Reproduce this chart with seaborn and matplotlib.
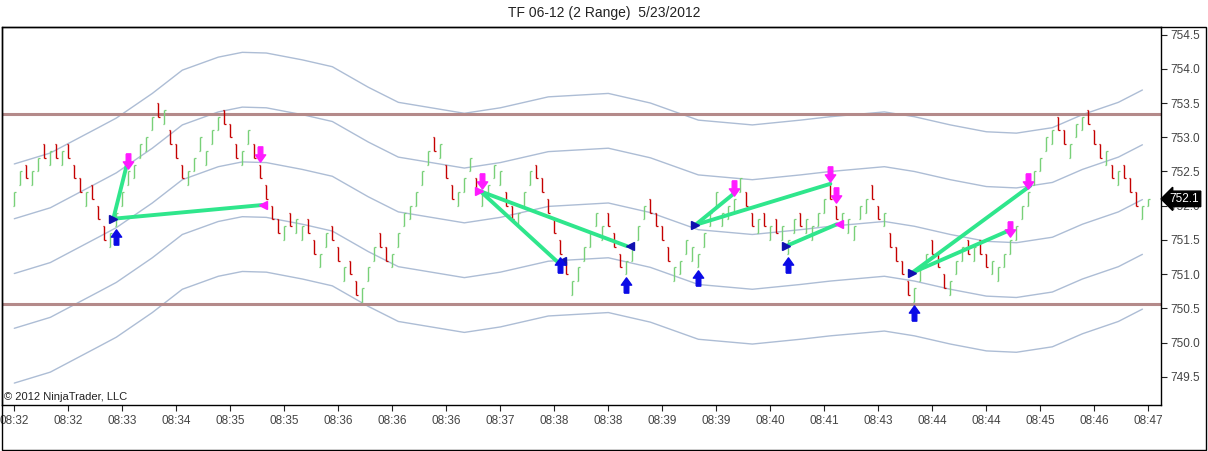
import matplotlib
matplotlib.use("Agg")
import matplotlib.pyplot as plt
import matplotlib.patches as mpatches
import numpy as np
import pandas as pd
import seaborn as sns

# ---- data ----
title = "TF 06-12 (2 Range)  5/23/2012"
tick_size = 0.1
bar_range = 2 * tick_size

# low of every range bar, G = up bar, R = down bar
bar_low = [
    752.0, 752.3, 752.4, 752.3, 752.5, 752.7, 752.6, 752.7, 752.6, 752.7,
    752.4, 752.2, 752.0, 752.1, 751.8, 751.5, 751.4, 751.7, 752.0, 752.3,
    752.4, 752.7, 752.8, 753.1, 753.3, 753.2, 752.9, 752.7, 752.4, 752.3,
    752.5, 752.8, 752.6, 752.9, 753.1, 753.2, 753.0, 752.7, 752.6, 752.9,
    752.7, 752.4, 752.1, 751.8, 751.6, 751.5, 751.7, 751.6, 751.5, 751.6,
    751.3, 751.1, 751.4, 751.5, 751.2, 750.9, 751.0, 750.7, 750.6, 750.9,
    751.2, 751.4, 751.2, 751.1, 751.4, 751.7, 751.8, 752.0, 752.3, 752.6,
    752.8, 752.7, 752.4, 752.1, 752.0, 752.2, 752.5, 752.2, 752.0, 752.1,
    752.4, 752.3, 752.0, 751.8, 751.7, 752.0, 752.3, 752.4, 752.2, 751.9,
    751.6, 751.3, 751.0, 750.7, 750.9, 751.2, 751.4, 751.7, 751.5, 751.7,
    751.4, 751.1, 751.0, 751.2, 751.5, 751.8, 751.9, 751.7, 751.5, 751.2,
    750.9, 751.0, 751.3, 751.2, 751.1, 751.4, 751.7, 752.0, 751.7, 751.8,
    751.9, 752.2, 752.0, 751.7, 751.6, 751.7, 751.5, 751.6, 751.5, 751.3,
    751.6, 751.7, 751.6, 751.5, 751.7, 751.9, 752.1, 751.8, 751.7, 751.6,
    751.5, 751.8, 751.9, 752.1, 751.8, 751.7, 751.4, 751.2, 751.0, 750.7,
    750.6, 750.9, 751.1, 751.3, 751.1, 750.8, 750.7, 751.0, 751.2, 751.3,
    751.2, 751.3, 751.1, 751.0, 750.9, 751.1, 751.3, 751.5, 751.8, 752.0,
    752.3, 752.5, 752.8, 752.9, 753.1, 752.9, 752.7, 753.0, 753.1, 753.2,
    752.9, 752.7, 752.6, 752.4, 752.3, 752.4, 752.2, 752.0, 751.8, 752.0,
]
bar_dir = (
    "GGRGGRGRGR" "RRGRRRGGGG" "GGGGRGRRRG" "GGGGGRRRGG" "RRRRRGRGGR"
    "RGGRRGRRGG" "GRRGGGGGGG" "RGRRGGGRGG" "GGRRGGGRRR" "RRRGGGGGGR"
    "RRGGGGRRRR" "GGGGGGGGGG" "GGRRGRGRGG" "GRGGGGRRGG" "GGGRRGRRRR"
    "GGGRRRGGGR" "GRRGGGGGGG" "GGGGRRGGGR" "RRGRGRRRGG"
)
last_high = 752.1  # last bar still forming

time_labels = ["08:32", "08:32", "08:33", "08:34", "08:35", "08:35", "08:36",
               "08:36", "08:36", "08:37", "08:38", "08:38", "08:39", "08:39",
               "08:40", "08:41", "08:43", "08:44", "08:44", "08:45", "08:46",
               "08:47"]
label_every = 9

# channel middle line, read at some bars; channel is middle +- 0.8 / 1.6
mid_bars = [0, 6, 14, 17, 23, 28, 34, 38, 42, 48, 53, 59, 64, 75, 81, 89, 99,
            106, 114, 123, 131, 136, 145, 150, 156, 162, 167, 173, 178, 184, 188]
mid_vals = [751.01, 751.17, 751.54, 751.68, 752.04, 752.38, 752.57, 752.64,
            752.63, 752.53, 752.43, 752.13, 751.91, 751.75, 751.83, 751.99,
            752.04, 751.90, 751.65, 751.58, 751.65, 751.70, 751.77, 751.70,
            751.58, 751.48, 751.46, 751.54, 751.73, 751.91, 752.09]
band_offsets = [-1.6, -0.8, 0.0, 0.8, 1.6]

level_lines = [753.34, 750.57]

# signal arrows
long_sig_bars = [17, 91, 102, 114, 129, 150]
short_sig_bars = [19, 41, 78, 120, 136, 137, 166, 169]

# trade lines (bar position, price)
trade_x0 = [16.5, 16.5, 77.7, 77.7, 113.5, 113.5, 128.6, 149.6, 149.6]
trade_y0 = [751.81, 751.81, 752.21, 752.21, 751.72, 751.72, 751.41, 751.02, 751.02]
trade_x1 = [18.9, 41.3, 90.4, 102.1, 120.1, 136.0, 137.1, 169.3, 165.8]
trade_y1 = [752.65, 752.01, 751.19, 751.41, 752.19, 752.32, 751.73, 752.29, 751.64]

long_entry_x = [16.5, 113.4, 128.6, 149.6]
long_entry_y = [751.81, 751.72, 751.41, 751.02]
long_exit_x = [41.5, 137.5]
long_exit_y = [752.01, 751.73]
short_entry_x = [77.45]
short_entry_y = [752.21]
short_exit_x = [91.3, 102.6]
short_exit_y = [751.20, 751.41]

# ---- build bars ----
n = len(bar_low)
x = np.arange(n)
lows = np.array(bar_low)
highs = lows + bar_range
highs[-1] = last_high
up = np.array([d == "G" for d in bar_dir])
opens = np.where(up, lows, highs)
closes = np.where(up, highs, lows)

green = "#78d078"
red = "#c40000"
band_color = "#adbdd5"

sns.set_style("white")
plt.rcParams["font.family"] = ["Liberation Sans", "DejaVu Sans"]

fig = plt.figure(figsize=(12.08, 4.51), dpi=100)
ax = fig.add_axes([2 / 1208, 46 / 451, 1159 / 1208, 378 / 451])

# channel lines
mid = pd.DataFrame({"bar": mid_bars, "mid": mid_vals})
rows = []
for k, off in enumerate(band_offsets):
    rows.append(pd.DataFrame({"bar": mid["bar"], "price": mid["mid"] + off, "band": k}))
bands = pd.concat(rows)
sns.lineplot(data=bands, x="bar", y="price", units="band", estimator=None,
             color=band_color, lw=1, ax=ax, zorder=1)

for lv in level_lines:
    ax.axhline(lv, color="#b48a8a", lw=2.2, zorder=2)

# range bars
cols = np.where(up, green, red)
ax.vlines(x, lows, highs, colors=cols, lw=1.0, zorder=3)
ax.hlines(opens, x - 0.25, x, colors=cols, lw=0.9, zorder=3)
ax.hlines(closes, x, x + 0.25, colors=cols, lw=0.9, zorder=3)

# trade lines
for a, b, c, d in zip(trade_x0, trade_y0, trade_x1, trade_y1):
    ax.plot([a, c], [b, d], color="#2fe68c", lw=2.8, solid_capstyle="round", zorder=4)

# arrows
arrow_up = [(-0.3, -1), (0.3, -1), (0.3, 0.05), (0.68, 0.05), (0, 1),
            (-0.68, 0.05), (-0.3, 0.05), (-0.3, -1)]
arrow_dn = [(px, -py) for px, py in arrow_up]
ax.plot(long_sig_bars, lows[long_sig_bars] - 0.16, ls="none", marker=arrow_up,
        ms=11, color="#0a0ae6", mec="#0a0ae6", zorder=6)
ax.plot(short_sig_bars, highs[short_sig_bars] + 0.16, ls="none", marker=arrow_dn,
        ms=11, color="#ff1aff", mec="#ff1aff", zorder=6)

ax.plot(long_entry_x, long_entry_y, ls="none", marker=">", ms=6, color="#1010b0", zorder=5)
ax.plot(long_exit_x, long_exit_y, ls="none", marker="<", ms=6, color="#ff1aff", zorder=5)
ax.plot(short_entry_x, short_entry_y, ls="none", marker=">", ms=6, color="#ff1aff", zorder=5)
ax.plot(short_exit_x, short_exit_y, ls="none", marker="<", ms=6, color="#1010b0", zorder=5)

# axes
ax.set_xlim(-2.05, 191.1)
ax.set_ylim(749.09, 754.61)
ax.set_xlabel("")
ax.set_ylabel("")
ax.yaxis.tick_right()
yt = np.arange(749.5, 754.51, 0.5)
ax.set_yticks(yt)
ax.set_yticklabels([f"{v:.1f}" for v in yt])
ax.set_xticks(np.arange(0, n, label_every))
ax.set_xticklabels(time_labels)
ax.tick_params(axis="both", direction="out", length=4, width=0.8, color="#222222",
               labelcolor="#444444", labelsize=8.5, pad=3)
ax.tick_params(axis="y", right=True, left=False)
ax.tick_params(axis="x", bottom=True)
for s in ax.spines.values():
    s.set_color("black")
    s.set_linewidth(1)

ax.text(0.002, 0.008, "\u00a9 2012 NinjaTrader, LLC", transform=ax.transAxes,
        ha="left", va="bottom", fontsize=8, color="#222222")

# last price flag sits on top of the axis labels, as in the original
last_close = closes[-1]
ax.annotate(f"{last_close:.1f}", xy=(1.0, last_close), xycoords=("axes fraction", "data"),
            xytext=(6, 0), textcoords="offset points", ha="left", va="center",
            color="white", fontsize=8.5, zorder=10, annotation_clip=False,
            bbox=dict(boxstyle="larrow,pad=0.15", fc="black", ec="black"))

fig.text(0.5, 1 - 13 / 451, title, ha="center", va="center", fontsize=10, color="#222222")
fig.add_artist(mpatches.Rectangle((2 / 1208, 1 / 451), 1204 / 1208, 423 / 451,
                                  transform=fig.transFigure, fill=False,
                                  ec="black", lw=1))

fig.savefig("out.png", dpi=100)
